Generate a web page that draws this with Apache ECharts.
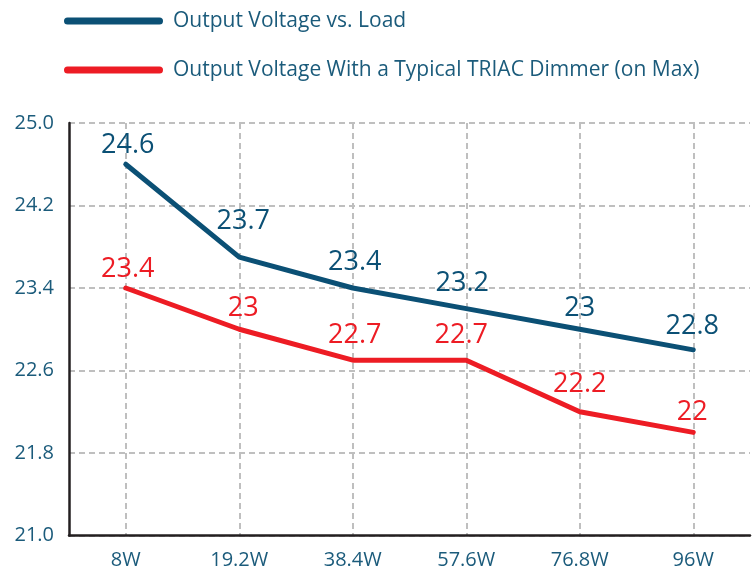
<!DOCTYPE html>
<html>
<head>
<meta charset="utf-8">
<script src="https://cdn.jsdelivr.net/npm/echarts@6/dist/echarts.min.js"></script>
<style>html,body{margin:0;padding:0;background:#fff}#c{width:755px;height:566px}</style>
</head>
<body>
<div id="c"></div>
<script>
const categories = ['8W', '19.2W', '38.4W', '57.6W', '76.8W', '96W'];
const loadSeriesName = 'Output Voltage vs. Load';
const loadValues = [24.6, 23.7, 23.4, 23.2, 23.0, 22.8];
const loadLabels = ['24.6', '23.7', '23.4', '23.2', '23', '22.8'];
const dimmerSeriesName = 'Output Voltage With a Typical TRIAC Dimmer (on Max)';
const dimmerValues = [23.4, 23.0, 22.7, 22.7, 22.2, 22.0];
const dimmerLabels = ['23.4', '23', '22.7', '22.7', '22.2', '22'];
const yMin = 21.0, yMax = 25.0, yStep = 0.8;

// label nudges (pixels) to mirror hand-placed annotations in the source
const loadLabelNudge = [[2, 1], [4, -16], [2, -6], [-4, -6], [0, -1], [-1, -4]];
const dimmerLabelNudge = [[2, 1], [4, -1], [2, -5], [-5, -5], [0, -8], [-1, -1]];

const FONT = '"Open Sans", "Noto Sans", sans-serif';
const BLUE = '#0b5075';
const RED = '#ed1c24';
const TEXT = '#1b5b7b';
const GRID = '#bfbfbf';
const legendIcon = 'path://M3.5,0 L95.5,0 A3.5,3.5 0 0 1 95.5,7 L3.5,7 A3.5,3.5 0 0 1 3.5,0 Z';

function withLabels(values, labels, nudges) {
  return values.map((v, i) => ({
    value: v,
    label: {formatter: labels[i], offset: nudges[i]}
  }));
}

const chart = echarts.init(document.getElementById('c'), null, {renderer: 'canvas'});
chart.setOption({
  animation: false,
  backgroundColor: '#fff',
  textStyle: {fontFamily: FONT},
  legend: {
    orient: 'vertical',
    left: 59,
    top: 4,
    itemWidth: 99,
    itemHeight: 7,
    itemGap: 25,
    icon: legendIcon,
    textStyle: {color: TEXT, fontSize: 21, fontFamily: FONT, lineHeight: 24, padding: [0, 0, 0, 5]},
    data: [
      {name: loadSeriesName, itemStyle: {color: BLUE, opacity: 1, borderWidth: 0}},
      {name: dimmerSeriesName, itemStyle: {color: RED, opacity: 1, borderWidth: 0}}
    ]
  },
  grid: {left: 69, right: 5, top: 123, bottom: 30.5, containLabel: false, outerBoundsMode: 'none'},
  xAxis: {
    type: 'category',
    data: categories,
    boundaryGap: true,
    axisLine: {show: true, lineStyle: {color: '#231f20', width: 2.5}},
    axisTick: {show: false},
    axisLabel: {color: TEXT, fontSize: 20, fontFamily: FONT, margin: 15},
    splitLine: {show: true, alignWithLabel: true, lineStyle: {color: GRID, width: 2, type: [6, 4]}}
  },
  yAxis: {
    type: 'value',
    min: yMin,
    max: yMax,
    interval: yStep,
    axisLine: {show: true, lineStyle: {color: '#231f20', width: 2.5}},
    axisTick: {show: false},
    axisLabel: {
      color: TEXT, fontSize: 20, fontFamily: FONT, margin: 15,
      padding: [0, 0, 12, 0],
      formatter: v => v.toFixed(1)
    },
    splitLine: {show: true, lineStyle: {color: GRID, width: 2, type: [6, 4]}}
  },
  series: [
    {
      name: loadSeriesName,
      type: 'line',
      data: withLabels(loadValues, loadLabels, loadLabelNudge),
      color: BLUE,
      showSymbol: true,
      symbol: 'circle',
      symbolSize: 2,
      itemStyle: {color: 'transparent', borderWidth: 0},
      lineStyle: {color: BLUE, width: 5, join: 'round', cap: 'round'},
      label: {
        show: true, position: 'top', distance: 5,
        color: BLUE, fontSize: 27, fontFamily: FONT
      },
      z: 3
    },
    {
      name: dimmerSeriesName,
      type: 'line',
      data: withLabels(dimmerValues, dimmerLabels, dimmerLabelNudge),
      color: RED,
      showSymbol: true,
      symbol: 'circle',
      symbolSize: 2,
      itemStyle: {color: 'transparent', borderWidth: 0},
      lineStyle: {color: RED, width: 5, join: 'round', cap: 'round'},
      label: {
        show: true, position: 'top', distance: 5,
        color: RED, fontSize: 27, fontFamily: FONT
      },
      z: 2
    }
  ]
});
</script>
</body>
</html>
